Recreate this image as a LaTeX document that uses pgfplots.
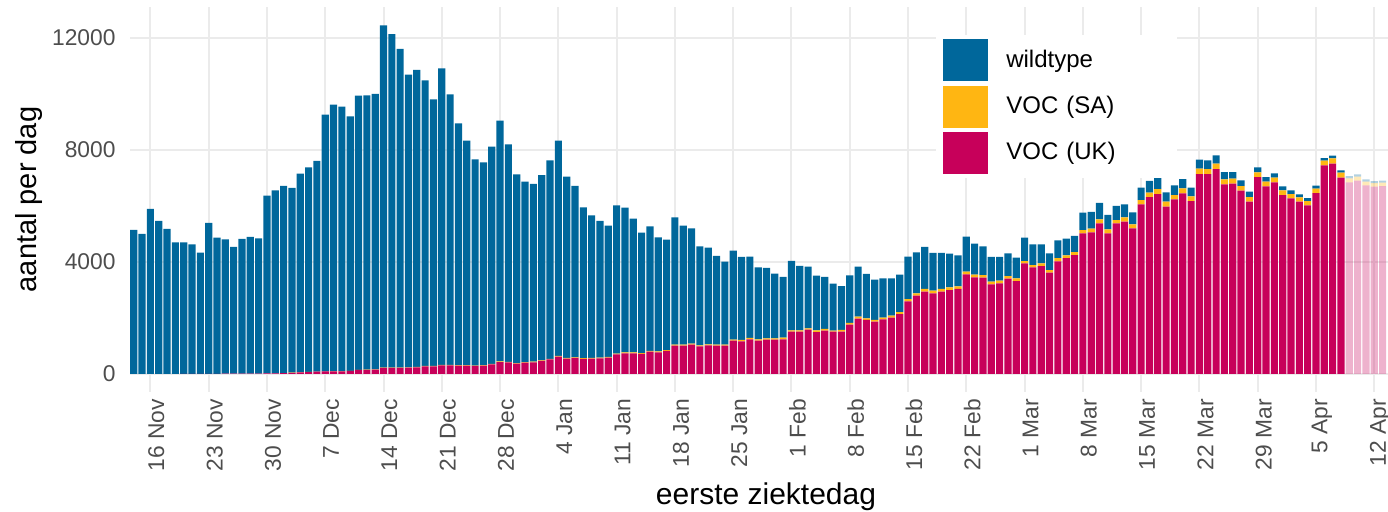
\documentclass[border=0pt]{standalone}
\usepackage{fontspec}
\setmainfont{Liberation Sans}
\usepackage{pgfplots}
\usepackage{pgfplotstable}
\pgfplotsset{compat=1.18}
\definecolor{wt}{HTML}{00679B}
\definecolor{sa}{HTML}{FFB612}
\definecolor{uk}{HTML}{C7005A}
\definecolor{gridc}{HTML}{EBEBEB}
\definecolor{tickc}{HTML}{4D4D4D}

\pgfplotstableread{
day uk sa wild
-2 0 0 5143
-1 0 0 5000
0 0 0 5892
1 0 0 5464
2 0 0 5178
3 0 0 4702
4 5 0 4697
5 5 0 4626
6 5 0 4328
7 5 0 5387
8 5 0 4864
9 10 0 4800
10 10 0 4525
11 10 0 4811
12 15 0 4878
13 15 0 4830
14 20 0 6349
15 25 0 6534
16 30 0 6684
17 40 5 6598
18 60 5 7089
19 70 5 7305
20 80 5 7522
21 90 5 9166
22 95 5 9518
23 95 5 9447
24 107 8 9086
25 143 8 9788
26 143 10 9798
27 155 10 9834
28 214 12 12226
29 214 12 11915
30 214 12 11380
31 226 12 10451
32 238 15 10603
33 274 15 10198
34 274 15 9519
35 309 15 10591
36 309 15 9663
37 298 15 8638
38 298 15 8019
39 286 15 7365
40 298 15 7246
41 345 18 7755
42 428 18 8601
43 417 18 7767
44 369 18 6743
45 405 20 6443
46 417 20 6348
47 464 20 6622
48 524 20 7086
49 619 24 7689
50 547 24 6476
51 571 24 6119
52 536 30 5386
53 547 24 5095
54 559 24 4881
55 583 24 4690
56 702 24 5297
57 738 30 5172
58 738 30 4779
59 714 30 4303
60 797 30 4443
61 773 30 4078
62 821 30 3946
63 1011 36 4548
64 1011 36 4250
65 1047 36 4119
66 988 36 3535
67 1023 36 3452
68 1011 36 3167
69 1011 36 2964
70 1190 40 3174
71 1166 48 2964
72 1238 48 2904
73 1190 48 2571
74 1226 48 2511
75 1226 48 2309
76 1238 60 2166
77 1511 48 2476
78 1511 48 2298
79 1583 48 2202
80 1499 60 1953
81 1547 60 1857
82 1511 36 1679
83 1511 60 1571
84 1761 60 1702
85 1975 71 1787
86 1928 60 1583
87 1869 60 1440
88 1952 60 1404
89 2011 71 1334
90 2142 71 1334
91 2594 83 1513
92 2797 83 1465
93 2940 95 1500
94 2880 95 1346
95 2940 95 1286
96 2999 95 1203
97 3035 95 1108
98 3558 95 1251
99 3451 95 1108
100 3439 95 1025
101 3201 95 882
102 3237 95 846
103 3403 95 811
104 3320 95 739
105 3951 83 835
106 3808 83 740
107 3856 95 680
108 3618 95 596
109 4022 119 633
110 4141 95 597
111 4248 107 573
112 5022 119 620
113 5058 131 596
114 5379 143 585
115 5022 143 513
116 5379 119 501
117 5438 155 466
118 5200 143 430
119 6057 155 442
120 6319 155 418
121 6426 179 406
122 5974 179 333
123 6236 155 344
124 6450 179 333
125 6176 167 309
126 7140 190 322
127 7140 179 309
128 7319 190 297
129 6771 179 261
130 6795 179 237
131 6545 167 202
132 6152 167 190
133 7033 167 178
134 6700 167 166
135 6843 167 154
136 6390 167 143
137 6271 155 131
138 6152 155 107
139 6021 155 107
140 6462 155 107
141 7449 167 95
142 7509 190 96
143 7009 179 83
}\solid

\pgfplotstableread{
day uk sa wild
144 6843 143 83
145 6902 143 83
146 6735 131 84
147 6688 131 71
148 6712 119 71
}\faded

\pgfplotsset{base/.style={
  scale only axis, width=629pt, height=192.5pt,
  at={(65pt,60pt)}, anchor=south west,
  xmin=-2.45, xmax=148.65, ymin=-643, ymax=13106,
  axis line style={draw=none},
  major tick length=0pt,
  ybar stacked, bar width=0.86,
}}

\begin{document}
\begin{tikzpicture}
\useasboundingbox (0,0) rectangle (694pt,256pt);
\begin{axis}[base,
  xmajorgrids, ymajorgrids,
  grid style={gridc, line width=1pt},
  xtick={0,7,...,147},
  xticklabels={16 Nov,23 Nov,30 Nov,7 Dec,14 Dec,21 Dec,28 Dec,4 Jan,11 Jan,18 Jan,25 Jan,1 Feb,8 Feb,15 Feb,22 Feb,1 Mar,8 Mar,15 Mar,22 Mar,29 Mar,5 Apr,12 Apr},
  xticklabel style={rotate=90, anchor=east, font=\fontsize{11.4}{13}\selectfont, text=tickc, yshift=-3pt},
  ytick={0,4000,8000,12000},
  yticklabels={0,4000,8000,12000},
  yticklabel style={anchor=east, font=\fontsize{11.4}{13}\selectfont, text=tickc, xshift=-3.7pt},
  xlabel={eerste ziektedag},
  xlabel style={at={(rel axis cs:0.5,0)}, anchor=base, yshift=-56.5pt, xshift=3.5pt, font=\fontsize{15}{18}\selectfont},
  ylabel={aantal per dag},
  ylabel style={at={(rel axis cs:0,0.5)}, anchor=center, yshift=50.5pt, font=\fontsize{14.5}{17}\selectfont},
  legend style={at={(rel axis cs:0.64,0.927)}, anchor=north west, draw=none, fill=white,
     font=\fontsize{12}{14}\selectfont, row sep=2.25pt, column sep=9.5pt,
     inner xsep=3.5pt, inner ysep=2pt, nodes={inner sep=0pt},
     /tikz/every even column/.append style={text width=82pt}},
  legend cell align=left,
]
\addplot[fill=uk, draw=none, forget plot] table[x=day, y=uk] {\solid};
\addplot[fill=sa, draw=none, forget plot] table[x=day, y=sa] {\solid};
\addplot[fill=wt, draw=none, forget plot] table[x=day, y=wild] {\solid};
\addlegendimage{legend image code/.code={\fill[wt] (0pt,-10.5pt) rectangle (22pt,10pt);}}
\addlegendentry{wildtype}
\addlegendimage{legend image code/.code={\fill[sa] (0pt,-10.5pt) rectangle (22pt,10pt);}}
\addlegendentry{VOC (SA)}
\addlegendimage{legend image code/.code={\fill[uk] (0pt,-10.5pt) rectangle (22pt,10pt);}}
\addlegendentry{VOC (UK)}
\end{axis}
\begin{axis}[base, xtick=\empty, ytick=\empty]
\addplot[fill=uk, fill opacity=0.3, draw=none] table[x=day, y=uk] {\faded};
\addplot[fill=sa, fill opacity=0.3, draw=none] table[x=day, y=sa] {\faded};
\addplot[fill=wt, fill opacity=0.3, draw=none] table[x=day, y=wild] {\faded};
\end{axis}
\end{tikzpicture}
\end{document}
